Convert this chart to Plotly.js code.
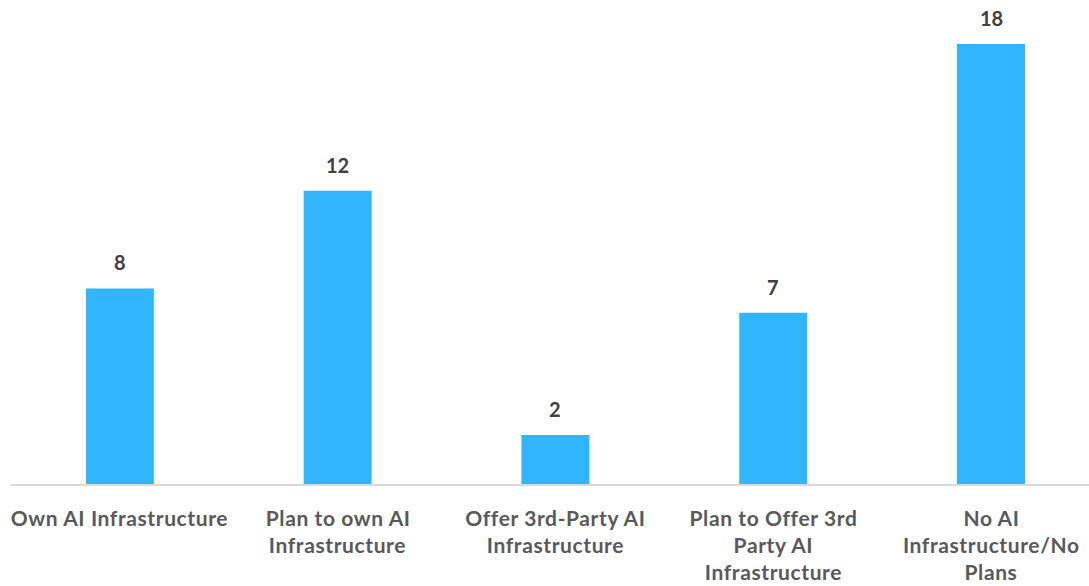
<!DOCTYPE html>
<html>
<head>
<meta charset="utf-8">
<script src="https://cdn.plot.ly/plotly-3.0.1.min.js"></script>
<style>html,body{margin:0;padding:0;background:#fff;}#chart{width:1089px;height:586px;}</style>
</head>
<body>
<div id="chart"></div>
<script>
const categories = ["Own AI Infrastructure", "Plan to own AI Infrastructure", "Offer 3rd-Party AI Infrastructure", "Plan to Offer 3rd Party AI Infrastructure", "No AI Infrastructure/No Plans"];
const labelLines = [
  ["Own AI Infrastructure"],
  ["Plan to own AI", "Infrastructure"],
  ["Offer 3rd-Party AI", "Infrastructure"],
  ["Plan to Offer 3rd", "Party AI", "Infrastructure"],
  ["No AI", "Infrastructure/No", "Plans"]
];
const values = [8, 12, 2, 7, 18];

const FONT = "Lato, 'Open Sans', sans-serif";
const annotations = [];
values.forEach((v, i) => {
  annotations.push({
    x: categories[i], y: v, xref: 'x', yref: 'y', text: String(v),
    showarrow: false, yanchor: 'middle', yshift: 26,
    font: {family: FONT, size: 20, color: '#404040', weight: 'bold'}
  });
});
labelLines.forEach((lines, i) => {
  lines.forEach((ln, j) => {
    annotations.push({
      x: categories[i], y: 0, xref: 'x', yref: 'paper', text: ln,
      showarrow: false, yanchor: 'middle', yshift: -33 - j * 27,
      font: {family: FONT, size: 21, color: '#595959', weight: 'bold'}
    });
  });
});

const trace = {
  type: 'bar', x: categories, y: values,
  marker: {color: '#31b6fe'}, width: 0.312, hoverinfo: 'none'
};
const layout = {
  width: 1089, height: 586,
  margin: {l: 11, r: 0, t: 20, b: 102},
  paper_bgcolor: '#ffffff', plot_bgcolor: '#ffffff',
  showlegend: false,
  xaxis: {type: 'category', range: [-0.5, 4.45], showticklabels: false, ticks: '',
          showline: true, linecolor: '#d9d9d9', linewidth: 2, showgrid: false, zeroline: false, fixedrange: true},
  yaxis: {range: [0, 18.98], visible: false, showgrid: false, zeroline: false, fixedrange: true},
  annotations: annotations
};
Plotly.newPlot('chart', [trace], layout, {displayModeBar: false, staticPlot: true}).then(() => {
  document.querySelectorAll('#chart .annotation-text').forEach(t => {
    const fs = parseFloat(t.style.fontSize || '0');
    if (fs >= 21) t.style.letterSpacing = '0.6px';
  });
});
</script>
</body>
</html>
